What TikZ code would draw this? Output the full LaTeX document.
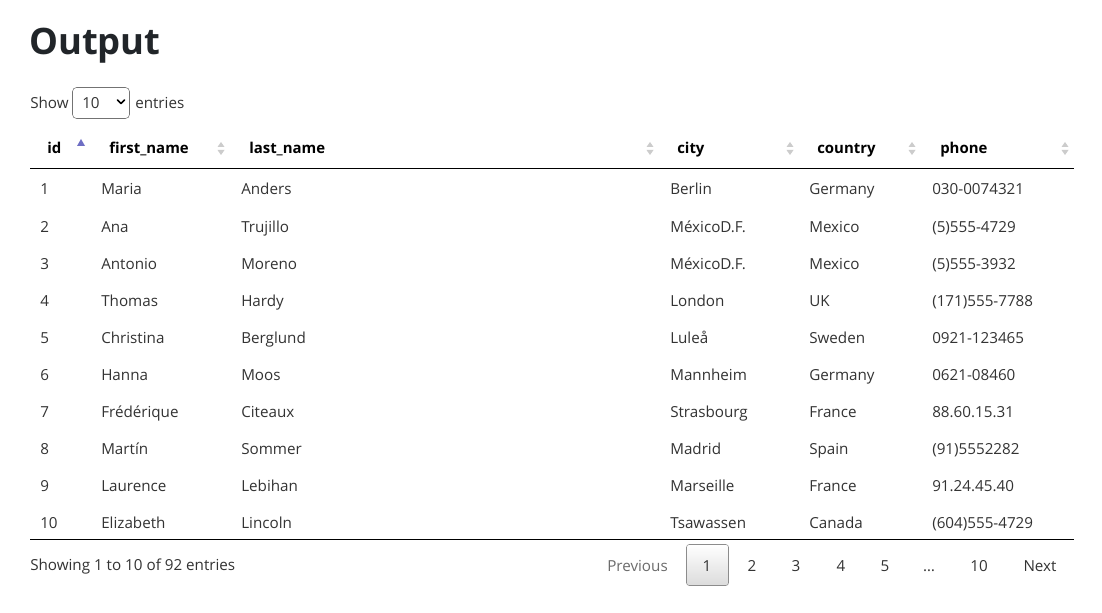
\documentclass[tikz,border=0pt]{standalone}
\usepackage{fontspec}
\setmainfont{Open Sans}
\definecolor{txt}{HTML}{333333}
\definecolor{ttl}{HTML}{212529}
\definecolor{sortoff}{HTML}{CCCCCC}
\definecolor{sorton}{HTML}{6E6EC4}
\definecolor{pagegray}{HTML}{6C6C6C}
\tikzset{
  cell/.style={anchor=base west,inner sep=0pt,text=txt,font=\fontsize{11.4}{13}\selectfont},
  head/.style={cell,text=black,font=\fontsize{11.2}{13}\selectfont\bfseries},
  pagelink/.style={anchor=base,inner sep=0pt,text=txt,font=\fontsize{11.4}{13}\selectfont},
}
\newcommand{\sortpair}[1]{%
  \fill[sortoff] (#1-3.5,147) -- (#1+3.5,147) -- (#1,142) -- cycle;
  \fill[sortoff] (#1-3.5,150) -- (#1+3.5,150) -- (#1,155) -- cycle;}
\begin{document}
\begin{tikzpicture}[x=0.75pt,y=-0.75pt]
\useasboundingbox[fill=white] (0,0) rectangle (1102,613);
% title and length menu
\node[anchor=base west,inner sep=0pt,text=ttl,font=\fontsize{27.3}{32}\selectfont\bfseries] (title) at (29,55) {Output};
\node[cell] (show) at (30,109) {Show};
\draw[gray!110,rounded corners=3pt] (72.5,87.5) rectangle (129.5,118.5);
\node[cell] (len) at (82,109) {10};
\draw[black,line width=1.3pt,line cap=round,line join=round] (117.5,100) -- (121,103.5) -- (124.5,100);
\node[cell] (entries) at (135,109) {entries};
% header
\foreach \x/\t [count=\c] in {47/id, 109/first\_name, 249/last\_name, 677/city, 817/country, 940/phone}
  \node[head] (h\c) at (\x,154) {\t};
\fill[sorton] (77,146) -- (85,146) -- (81,139) -- cycle;
\foreach \s in {221,650,790,912,1065}
  \sortpair{\s}
\draw[black,line width=0.8pt] (30,168.5) -- (1074,168.5);
% rows
\foreach \a/\b/\cc/\d/\e/\f [count=\r from 0] in {
  1/Maria/Anders/Berlin/Germany/030-0074321,
  2/Ana/Trujillo/MéxicoD.F./Mexico/(5)555-4729,
  3/Antonio/Moreno/MéxicoD.F./Mexico/(5)555-3932,
  4/Thomas/Hardy/London/UK/(171)555-7788,
  5/Christina/Berglund/Luleå/Sweden/0921-123465,
  6/Hanna/Moos/Mannheim/Germany/0621-08460,
  7/Frédérique/Citeaux/Strasbourg/France/88.60.15.31,
  8/Martín/Sommer/Madrid/Spain/(91)5552282,
  9/Laurence/Lebihan/Marseille/France/91.24.45.40,
  10/Elizabeth/Lincoln/Tsawassen/Canada/(604)555-4729}
{
  \node[cell] (r\r c1) at (40,195+\r*37) {\a};
  \node[cell] (r\r c2) at (101,195+\r*37) {\b};
  \node[cell] (r\r c3) at (241,195+\r*37) {\cc};
  \node[cell] (r\r c4) at (670,195+\r*37) {\d};
  \node[cell] (r\r c5) at (809,195+\r*37) {\e};
  \node[cell] (r\r c6) at (932,195+\r*37) {\f};
}
\draw[black,line width=0.8pt] (30,539.5) -- (1074,539.5);
% info and paging
\node[cell] (info) at (30,570) {Showing 1 to 10 of 92 entries};
\draw[gray!90,top color=white,bottom color=gray!28,rounded corners=2pt] (686.5,544.5) rectangle (728.5,585.5);
\node[pagelink,text=pagegray] (prev) at (637.5,571) {Previous};
\foreach \x/\p [count=\k] in {707/1, 752/2, 796/3, 841/4, 885/5, 929/\dots, 979/10, 1040/Next}
  \node[pagelink] (pg\k) at (\x,571) {\p};
\end{tikzpicture}
\end{document}
